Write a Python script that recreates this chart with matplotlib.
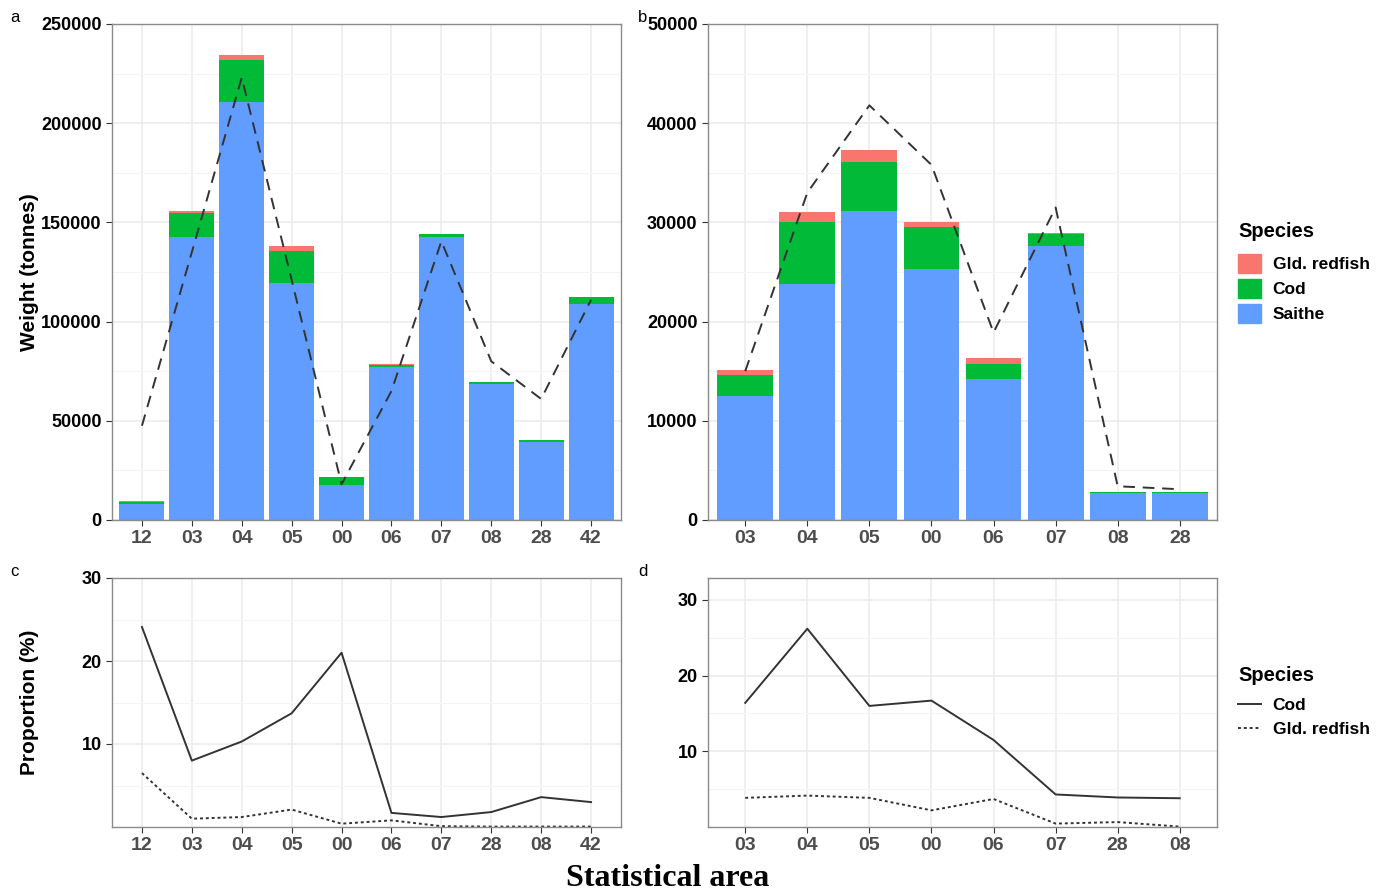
import matplotlib
matplotlib.use("Agg")
import matplotlib.pyplot as plt
import matplotlib.patches as mpatches
from matplotlib.lines import Line2D
import numpy as np

# Panel a: total catch per statistical area (tonnes)
areas_a = ["12", "03", "04", "05", "00", "06", "07", "08", "28", "42"]
saithe_a = [8000, 142500, 210500, 119500, 17500, 77000, 142500, 68500, 39500, 109000]
cod_a = [1200, 12000, 21500, 16000, 4000, 1000, 1500, 1200, 1000, 3200]
redfish_a = [300, 1000, 2500, 2500, 300, 800, 300, 100, 50, 200]
line_a = [47500, 135000, 223000, 121000, 18000, 65000, 140500, 80000, 61000, 111000]

# Panel b
areas_b = ["03", "04", "05", "00", "06", "07", "08", "28"]
saithe_b = [12500, 23800, 31100, 25300, 14200, 27600, 2750, 2700]
cod_b = [2100, 6200, 5000, 4200, 1500, 1200, 100, 100]
redfish_b = [500, 1000, 1200, 500, 600, 150, 10, 10]
line_b = [15000, 33000, 41800, 35800, 18900, 31500, 3400, 3100]

# Panel c: proportion (%)
areas_c = ["12", "03", "04", "05", "00", "06", "07", "28", "08", "42"]
cod_c = [24.1, 8.0, 10.3, 13.7, 21.0, 1.7, 1.2, 1.8, 3.6, 3.0]
redfish_c = [6.5, 1.0, 1.2, 2.1, 0.4, 0.8, 0.1, 0.05, 0.05, 0.05]

# Panel d
areas_d = ["03", "04", "05", "00", "06", "07", "28", "08"]
cod_d = [16.4, 26.2, 16.0, 16.7, 11.5, 4.3, 3.9, 3.8]
redfish_d = [3.85, 4.15, 3.85, 2.2, 3.7, 0.45, 0.65, 0.05]

C_RED = "#F8766D"
C_COD = "#00BA38"
C_SAI = "#619CFF"
GRID = "#EBEBEB"

W, H = 1387, 892
fig = plt.figure(figsize=(W / 100, H / 100), dpi=100)
plt.rcParams["font.family"] = ["Liberation Sans", "DejaVu Sans"]


def add_ax(l, t, r, b):
    return fig.add_axes([l / W, 1 - b / H, (r - l) / W, (b - t) / H])


def style(ax, labels, ylim, major, minor):
    n = len(labels)
    ax.set_xlim(-0.6, n - 1 + 0.6)
    ax.set_ylim(*ylim)
    ax.set_xticks(np.arange(n))
    ax.set_xticklabels(labels, fontsize=14, fontweight="bold", color="#4D4D4D")
    ax.set_yticks(major)
    ax.set_yticks(minor, minor=True)
    ax.tick_params(axis="y", which="minor", length=0)
    ax.tick_params(axis="both", which="major", length=4, color="#333333", width=0.8)
    for lab in ax.get_yticklabels():
        lab.set_fontsize(13)
        lab.set_fontweight("bold")
        lab.set_color("black")
    ax.grid(True, which="major", color=GRID, linewidth=1.1)
    ax.grid(True, which="minor", axis="y", color="#F4F4F4", linewidth=0.8)
    ax.set_axisbelow(True)
    for s in ax.spines.values():
        s.set_color("#8A8A8A")
        s.set_linewidth(1.0)


def bars(ax, labels, sai, cod, red, line):
    x = np.arange(len(labels))
    sai = np.array(sai)
    cod = np.array(cod)
    red = np.array(red)
    ax.bar(x, sai, width=0.9, color=C_SAI, linewidth=0)
    ax.bar(x, cod, width=0.9, bottom=sai, color=C_COD, linewidth=0)
    ax.bar(x, red, width=0.9, bottom=sai + cod, color=C_RED, linewidth=0)
    ax.plot(x, line, color="#333333", linestyle=(0, (6, 4)), linewidth=1.4)


# a
ax_a = add_ax(112, 24, 621, 520)
style(ax_a, areas_a, (0, 250000), np.arange(0, 250001, 50000),
      np.arange(25000, 250000, 50000))
bars(ax_a, areas_a, saithe_a, cod_a, redfish_a, line_a)
ax_a.set_ylabel("Weight (tonnes)", fontsize=15, fontweight="bold")
ax_a.yaxis.set_label_coords((39 - 112) / 509, 0.5)

# b
ax_b = add_ax(708, 24, 1217, 520)
style(ax_b, areas_b, (0, 50000), np.arange(0, 50001, 10000),
      np.arange(5000, 50000, 10000))
bars(ax_b, areas_b, saithe_b, cod_b, redfish_b, line_b)

# c
ax_c = add_ax(112, 578, 621, 827)
style(ax_c, areas_c, (0, 30), [10, 20, 30], [5, 15, 25])
xc = np.arange(len(areas_c))
ax_c.plot(xc, cod_c, color="#333333", linewidth=1.4)
ax_c.plot(xc, redfish_c, color="#333333", linewidth=1.4, linestyle=(0, (1.5, 1.5)))
ax_c.set_ylabel("Proportion (%)", fontsize=15, fontweight="bold")
ax_c.yaxis.set_label_coords((39 - 112) / 509, 0.5)

# d
ax_d = add_ax(708, 578, 1217, 827)
style(ax_d, areas_d, (0, 32.9), [10, 20, 30], [5, 15, 25])
xd = np.arange(len(areas_d))
ax_d.plot(xd, cod_d, color="#333333", linewidth=1.4)
ax_d.plot(xd, redfish_d, color="#333333", linewidth=1.4, linestyle=(0, (1.5, 1.5)))

# panel letters
for lx, ly, t in [(10, 18, "a"), (638, 18, "b"), (10, 572, "c"), (638, 572, "d")]:
    fig.text(lx / W, 1 - ly / H, t, fontsize=12, va="center", ha="left")

fig.text(668 / W, 1 - 878 / H, "Statistical area", fontsize=23, fontweight="bold",
         family=["Liberation Serif", "DejaVu Serif"], ha="center", va="center")

# legends
h1 = [mpatches.Patch(color=C_RED, label="Gld. redfish"),
      mpatches.Patch(color=C_COD, label="Cod"),
      mpatches.Patch(color=C_SAI, label="Saithe")]
leg1 = fig.legend(handles=h1, loc="upper left", bbox_to_anchor=(1238 / W, 1 - 222 / H),
                  frameon=False, title="Species", handlelength=1.35, handleheight=1.35,
                  labelspacing=0.32, handletextpad=0.65, borderaxespad=0, borderpad=0,
                  prop={"size": 12.5, "weight": "bold"},
                  title_fontproperties={"size": 14.5, "weight": "bold"})
leg1._legend_box.align = "left"
leg1._legend_box.sep = 9

h2 = [Line2D([0], [0], color="#333333", linewidth=1.4, label="Cod"),
      Line2D([0], [0], color="#333333", linewidth=1.4, linestyle=(0, (1.5, 1.5)),
             label="Gld. redfish")]
leg2 = fig.legend(handles=h2, loc="upper left", bbox_to_anchor=(1238 / W, 1 - 666 / H),
                  frameon=False, title="Species", handlelength=1.35,
                  labelspacing=0.55, handletextpad=0.65, borderaxespad=0, borderpad=0,
                  prop={"size": 12.5, "weight": "bold"},
                  title_fontproperties={"size": 14.5, "weight": "bold"})
leg2._legend_box.align = "left"
leg2._legend_box.sep = 9

fig.savefig("out.png", dpi=100)
